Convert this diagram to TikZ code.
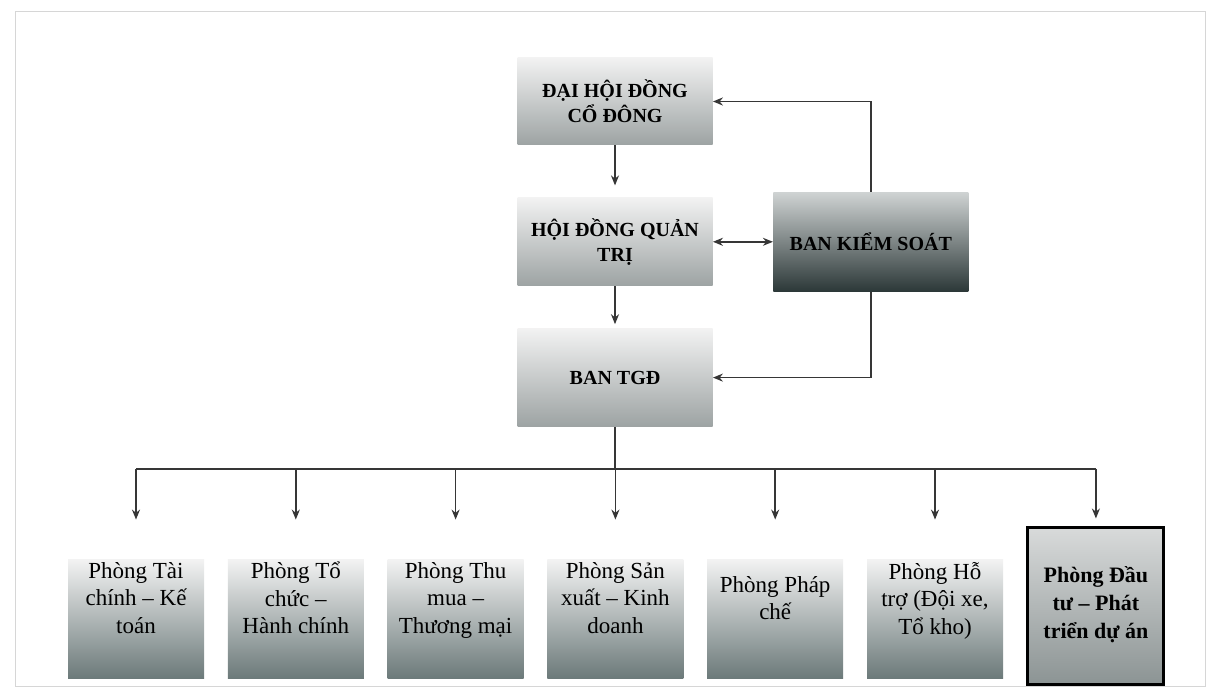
\documentclass[tikz,border=0pt]{standalone}
\usepackage{fontspec}
\setmainfont{Liberation Serif}
\usepackage{xcolor}
\usetikzlibrary{positioning, arrows.meta}
\definecolor{ShadeTop}{HTML}{F2F2F2}
\definecolor{BoxLow}{HTML}{9DA3A3}
\definecolor{SlateLow}{HTML}{6C7A7A}
\definecolor{SteelTop}{HTML}{CFD3D3}
\definecolor{SlateDark}{HTML}{2C3838}
\definecolor{InvestTop}{HTML}{D8DADA}
\definecolor{InvestLow}{HTML}{8C9494}
\definecolor{LinkGray}{HTML}{363636}
\definecolor{FrameGray}{HTML}{D6D6D6}

\begin{document}
\begin{tikzpicture}[
    x=0.5pt, y=-0.5pt,
    topbox/.style={
      rectangle, minimum width=97.5pt, minimum height=44pt,
      align=center, font=\fontsize{10}{12.5}\selectfont\bfseries,
      top color=ShadeTop, bottom color=BoxLow
    },
    phong/.style={
      rectangle, minimum width=68pt, minimum height=59pt,
      inner xsep=1pt, inner ysep=0pt, text depth=21pt,
      align=center, font=\fontsize{11.5}{13.75}\selectfont,
      top color=ShadeTop, bottom color=SlateLow
    },
    link/.style={LinkGray, line width=0.75pt},
    arr/.style={link, arrows={-Stealth[length=5pt, width=4pt]}}
  ]
    \useasboundingbox (0,0) rectangle (1215,699);
    \draw[FrameGray, line width=0.5pt] (15,12) rectangle (1205,686);

    %% Management
    \node[topbox, minimum height=43.5pt] (dhd) at (615,101.5) {ĐẠI HỘI ĐỒNG\\CỔ ĐÔNG};
    \node[topbox, below=26pt of dhd] (hdqt) {HỘI ĐỒNG QUẢN\\TRỊ};
    \node[topbox, minimum height=49pt, below=21pt of hdqt] (tgd) {BAN TGĐ};
    \node[topbox, minimum height=49.5pt, top color=SteelTop, bottom color=SlateDark, right=30pt of hdqt] (bks) {BAN KIỂM SOÁT};

    %% Departments
    \node[phong] (p1) at (136,619) {Phòng Tài\\chính – Kế\\toán};
    \node[phong, right=11.5pt of p1] (p2) {Phòng Tổ\\chức –\\Hành chính};
    \node[phong, right=11.5pt of p2] (p3) {Phòng Thu\\mua –\\Thương mại};
    \node[phong, right=11.5pt of p3] (p4) {Phòng Sản\\xuất – Kinh\\doanh};
    \node[phong, right=11.5pt of p4] (p5) {Phòng Pháp\\chế};
    \node[phong, right=11.5pt of p5] (p6) {Phòng Hỗ\\trợ (Đội xe,\\Tổ kho)};
    \node[phong, minimum height=78pt, text depth=4pt, yshift=6.5pt,
          font=\fontsize{11}{14}\selectfont\bfseries,
          top color=InvestTop, bottom color=InvestLow,
          draw=black, line width=1.5pt, right=11.5pt of p6] (p7) {Phòng Đầu\\tư – Phát\\triển dự án};

    %% Draw arrows
    \draw[arr, shorten >=6pt] (dhd) -- (hdqt);
    \draw[arr, shorten >=2pt] (hdqt) -- (tgd);
    \draw[link, arrows={Stealth[length=5pt, width=4pt]-Stealth[length=5pt, width=4pt]}] (hdqt) -- (bks);
    \draw[arr] (bks.north) |- (dhd.east);
    \draw[arr] (bks.south) |- (tgd.east);

    \coordinate (bus) at (613,469);
    \draw[link] (tgd.south) -- (tgd.south |- bus);
    \draw[link] (p1.north |- bus) -- (p7.north |- bus);
    \draw[arr, shorten >=20pt] (p1.north |- bus) -- (p1.north);
    \draw[arr, shorten >=20pt] (p2.north |- bus) -- (p2.north);
    \draw[arr, shorten >=20pt] (p3.north |- bus) -- (p3.north);
    \draw[arr, shorten >=20pt] (p4.north |- bus) -- (p4.north);
    \draw[arr, shorten >=20pt] (p5.north |- bus) -- (p5.north);
    \draw[arr, shorten >=20pt] (p6.north |- bus) -- (p6.north);
    \draw[arr, shorten >=4pt] (p7.north |- bus) -- (p7.north);
  \end{tikzpicture}
\end{document}
